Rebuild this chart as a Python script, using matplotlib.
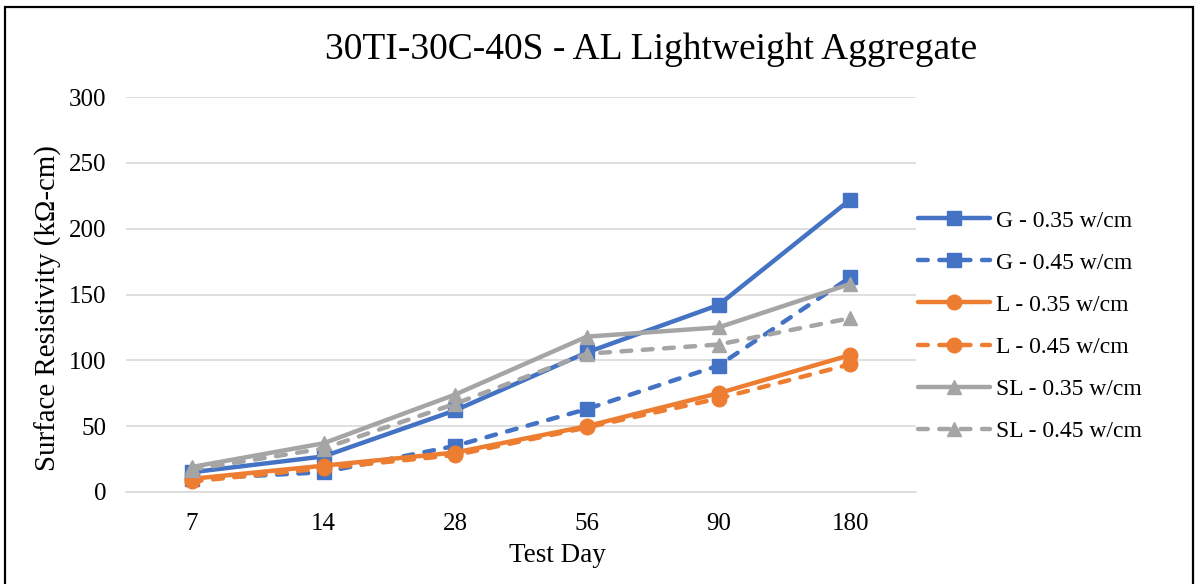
import matplotlib
matplotlib.use("Agg")
import matplotlib.pyplot as plt
from matplotlib.patches import Rectangle

days = ["7", "14", "28", "56", "90", "180"]
g_035 = [15, 27, 62, 106, 142, 222]
g_045 = [10, 15, 35, 63, 96, 163]
l_035 = [10, 20, 30, 50, 75, 104]
l_045 = [8, 18, 28, 49, 71, 97]
sl_035 = [19, 37, 74, 118, 125, 158]
sl_045 = [17, 33, 67, 105, 112, 132]
labels = ["G - 0.35 w/cm", "G - 0.45 w/cm", "L - 0.35 w/cm",
          "L - 0.45 w/cm", "SL - 0.35 w/cm", "SL - 0.45 w/cm"]
yticks = [0, 50, 100, 150, 200, 250, 300]

blue, orange, gray = "#4472C4", "#ED7D31", "#A5A5A5"
plt.rcParams['font.family'] = ['Liberation Serif', 'DejaVu Serif']

W, H = 1197, 584
fig = plt.figure(figsize=(W / 100, H / 100), dpi=100)
ax = fig.add_axes([126 / W, 1 - 492 / H, (916 - 126) / W, (492 - 97) / H])

dash = (0, (2.2, 2.6))
x = list(range(len(days)))
series = [
    (g_035, blue, '-', 's', 9.5), (g_045, blue, dash, 's', 9.5),
    (l_035, orange, '-', 'o', 10.5), (l_045, orange, dash, 'o', 10.5),
    (sl_035, gray, '-', '^', 10), (sl_045, gray, dash, '^', 10),
]
for (vals, c, ls, m, ms), lab in zip(series, labels):
    ax.plot(x, vals, color=c, linestyle=ls, marker=m, markersize=ms,
            linewidth=3.2, label=lab, solid_capstyle='round',
            dash_capstyle='round', zorder=3)

ax.set_xlim(-0.5, len(days) - 0.5)
ax.set_ylim(0, 300)
ax.set_yticks(yticks)
ax.set_xticks(x)
ax.set_xticklabels(days)
ax.grid(axis='y', color='#D9D9D9', linewidth=1.2)
ax.set_axisbelow(True)
for s in ['top', 'right', 'left']:
    ax.spines[s].set_visible(False)
ax.spines['bottom'].set_color('#D9D9D9')
ax.spines['bottom'].set_linewidth(1.2)
ax.tick_params(length=0, labelsize=18, pad=14)
ax.tick_params(axis='x', pad=15)

fig.text(48 / W, 1 - 308 / H, "Surface Resistivity (kΩ-cm)", rotation=90,
         ha='center', va='center', fontsize=20.8)
fig.text(557 / W, 1 - 556 / H, "Test Day", ha='center', va='center',
         fontsize=19.5)
fig.text(651 / W, 1 - 50 / H, "30TI-30C-40S - AL Lightweight Aggregate",
         ha='center', va='center', fontsize=27)

ax.legend(loc='center left', bbox_to_anchor=(918 / W, 1 - 326 / H),
          bbox_transform=fig.transFigure, frameon=False, fontsize=17,
          handlelength=3.05, labelspacing=0.87, handletextpad=0.25,
          borderpad=0, borderaxespad=0, markerscale=1.0)

fig.patches.append(Rectangle((5 / W, -0.05), (1193 - 5) / W, 1 - 7 / H + 0.05,
                             transform=fig.transFigure, fill=False,
                             edgecolor='black', linewidth=1.6))

fig.savefig("out.png", dpi=100)
